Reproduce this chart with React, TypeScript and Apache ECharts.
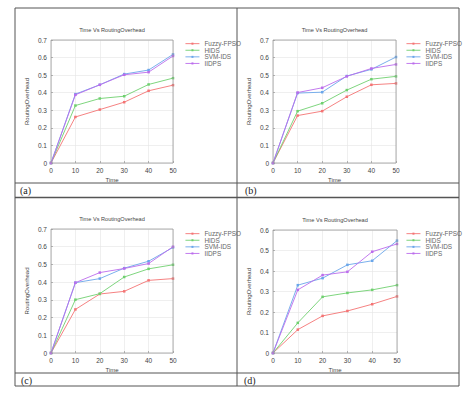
import React, { useEffect, useRef } from "react";
import * as echarts from "echarts";

const times = [0, 10, 20, 30, 40, 50];
const seriesNames = ["Fuzzy-FPSO", "HIDS", "SVM-IDS", "IIDPS"];
const colors = ["#f47474", "#6fd06f", "#6aa6ea", "#bb6cec"];
const panelLabels = ["(a)", "(b)", "(c)", "(d)"];
const titleText = "Time Vs RoutingOverhead";
const xName = "Time";
const yName = "RoutingOverhead";
const yMax = [0.7, 0.7, 0.7, 0.6];

const panelA = [
  [0, 0.262, 0.304, 0.346, 0.411, 0.443],
  [0, 0.327, 0.367, 0.38, 0.447, 0.483],
  [0, 0.392, 0.445, 0.506, 0.529, 0.618],
  [0, 0.388, 0.445, 0.502, 0.517, 0.609],
];
const panelB = [
  [0, 0.27, 0.295, 0.377, 0.445, 0.453],
  [0, 0.295, 0.34, 0.415, 0.477, 0.493],
  [0, 0.398, 0.403, 0.495, 0.533, 0.603],
  [0, 0.401, 0.428, 0.493, 0.538, 0.561],
];
const panelC = [
  [0, 0.246, 0.333, 0.348, 0.41, 0.42],
  [0, 0.301, 0.335, 0.429, 0.475, 0.498],
  [0, 0.397, 0.42, 0.479, 0.518, 0.596],
  [0, 0.397, 0.454, 0.477, 0.505, 0.6],
];
const panelD = [
  [0, 0.114, 0.181, 0.205, 0.238, 0.276],
  [0, 0.147, 0.274, 0.293, 0.308, 0.331],
  [0, 0.331, 0.365, 0.43, 0.45, 0.548],
  [0, 0.308, 0.38, 0.396, 0.494, 0.532],
];
const panels = [panelA, panelB, panelC, panelD];

export default function App() {
  const ref = useRef<HTMLDivElement>(null);
  useEffect(() => {
    if (!ref.current) return;
    const chart = echarts.init(ref.current, null, { renderer: "svg" });
    const font = "Liberation Sans";
    const grids = [
      { left: 51, top: 40, width: 122, height: 123 },
      { left: 273, top: 40, width: 123, height: 123 },
      { left: 51, top: 229, width: 122, height: 124 },
      { left: 273, top: 230, width: 124, height: 123 },
    ];
    const legendPos = [
      { left: 185, top: 40.5 },
      { left: 406, top: 40.5 },
      { left: 185, top: 230.5 },
      { left: 406, top: 230.5 },
    ];
    const labelPos = [
      { x: 20, y: 190 },
      { x: 245, y: 190 },
      { x: 21, y: 380 },
      { x: 244, y: 380 },
    ];
    const series: any[] = [];
    panels.forEach((panel, p) => {
      panel.forEach((vals, s) => {
        series.push({
          type: "line",
          name: seriesNames[s],
          xAxisIndex: p,
          yAxisIndex: p,
          data: vals.map((v, i) => [times[i], v]),
          symbol: "rect",
          symbolSize: 2.5,
          lineStyle: { width: 0.9, color: colors[s] },
          itemStyle: { color: colors[s] },
          z: 3 + s,
        });
      });
    });
    const graphics: any[] = [
      {
        type: "rect",
        shape: { x: 15, y: 8, width: 444, height: 378 },
        style: { fill: "none", stroke: "#555", lineWidth: 1 },
      },
      { type: "line", shape: { x1: 237, y1: 8, x2: 237, y2: 386 }, style: { stroke: "#555", lineWidth: 1 } },
      { type: "line", shape: { x1: 15, y1: 183, x2: 459, y2: 183 }, style: { stroke: "#555", lineWidth: 1 } },
      { type: "line", shape: { x1: 15, y1: 197.5, x2: 459, y2: 197.5 }, style: { stroke: "#555", lineWidth: 1.5 } },
      { type: "line", shape: { x1: 15, y1: 373, x2: 459, y2: 373 }, style: { stroke: "#555", lineWidth: 1 } },
    ];
    grids.forEach((g, p) => {
      graphics.push({
        type: "text",
        x: g.left + g.width / 2,
        y: g.top - 10,
        style: {
          text: titleText,
          font: `5.6px "${font}"`,
          fill: "#444",
          textAlign: "center",
          textVerticalAlign: "middle",
        },
      });
      graphics.push({
        type: "rect",
        shape: { x: g.left, y: g.top, width: g.width, height: g.height },
        style: { fill: "none", stroke: "#999", lineWidth: 0.8 },
        z: 10,
      });
      graphics.push({
        type: "text",
        x: labelPos[p].x,
        y: labelPos[p].y,
        style: {
          text: panelLabels[p],
          font: `10px "Liberation Serif"`,
          fill: "#222",
          textVerticalAlign: "middle",
        },
      });
    });
    chart.setOption({
      animation: false,
      backgroundColor: "#fff",
      grid: grids.map((g) => ({ ...g, containLabel: false })),
      xAxis: grids.map((_, p) => ({
        type: "value",
        gridIndex: p,
        min: 0,
        max: 50,
        interval: 10,
        name: xName,
        nameLocation: "middle",
        nameGap: 14,
        nameTextStyle: { fontSize: 6, color: "#444", fontFamily: font },
        axisLine: { show: false },
        axisTick: { show: true, inside: true, length: 2, lineStyle: { color: "#888", width: 0.6 } },
        axisLabel: { fontSize: 6.5, color: "#444", fontFamily: font, margin: 4 },
        splitLine: { show: true, lineStyle: { color: "#e4e4e4", width: 0.6 } },
      })),
      yAxis: grids.map((_, p) => ({
        type: "value",
        gridIndex: p,
        min: 0,
        max: yMax[p],
        interval: 0.1,
        name: yName,
        nameLocation: "middle",
        nameGap: 21,
        nameTextStyle: { fontSize: 6, color: "#444", fontFamily: font },
        axisLine: { show: false },
        axisTick: { show: true, inside: true, length: 2, lineStyle: { color: "#888", width: 0.6 } },
        axisLabel: { fontSize: 6.5, color: "#444", fontFamily: font, margin: 4 },
        splitLine: { show: true, lineStyle: { color: "#e4e4e4", width: 0.6 } },
      })),
      legend: legendPos.map((lp) => ({
        ...lp,
        orient: "vertical",
        data: seriesNames,
        itemWidth: 14,
        itemHeight: 2.5,
        itemGap: 0.3,
        padding: 0,
        lineStyle: { width: 0.9 },
        textStyle: { fontSize: 6.4, color: "#666", fontFamily: font, lineHeight: 6.3, padding: [0, 0, 0, 0] },
        selectedMode: false,
      })),
      graphic: graphics,
      series,
    });
    return () => chart.dispose();
  }, []);
  return (
    <div
      ref={ref}
      style={{ position: "fixed", left: 0, top: 0, width: 470, height: 394, background: "#fff" }}
    />
  );
}
